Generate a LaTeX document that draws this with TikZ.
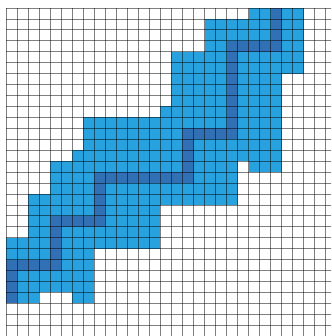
\documentclass[tikz,border=0pt]{standalone}
\definecolor{lightb}{RGB}{40,162,222}
\definecolor{darkb}{RGB}{50,112,182}
\tikzset{
  litecell/.style={fill=lightb},
  pathcell/.style={fill=darkb},
  gridline/.style={draw=black,draw opacity=0.5,line width=0.8pt}
}
\begin{document}
\begin{tikzpicture}[x=1pt,y=1pt]
\useasboundingbox (0,0) rectangle (331,-336);
\fill[white] (0,0) rectangle (331,-336);
\clip (0,0) rectangle (331,-336);
\begin{scope}[xshift=6pt,yshift=-8pt,x=11.03pt,y=-10.94pt]
  % light blue band
  \foreach \r/\a/\b in {0/22/26,1/18/26,2/18/26,3/18/26,4/15/26,5/15/26,
      6/15/24,7/15/24,8/15/24,9/14/24,10/7/24,11/7/24,12/7/24,13/6/24,
      14/4/20,14/22/24,15/4/20,16/4/20,17/2/20,18/2/13,19/2/13,20/2/13,
      21/0/13,22/0/7,23/0/7,24/0/7,25/0/7,26/0/2,26/6/7}
    \path[litecell] (\a,\r) rectangle ({\b+1},{\r+1});
  % dark blue path
  \foreach \r/\a/\b in {0/24/24,1/24/24,2/24/24,3/20/24,4/20/20,5/20/20,
      6/20/20,7/20/20,8/20/20,9/20/20,10/20/20,11/16/20,12/16/16,13/16/16,
      14/16/16,15/8/16,16/8/8,17/8/8,18/8/8,19/4/8,20/4/4,21/4/4,22/4/4,
      23/0/4,24/0/0,25/0/0,26/0/0}
    \path[pathcell] (\a,\r) rectangle ({\b+1},{\r+1});
  % grid
  \foreach \i in {0,...,30}
    \draw[gridline] (\i,0) -- (\i,31);
  \foreach \j in {0,...,31}
    \draw[gridline] (0,\j) -- (31,\j);
\end{scope}
\end{tikzpicture}
\end{document}
